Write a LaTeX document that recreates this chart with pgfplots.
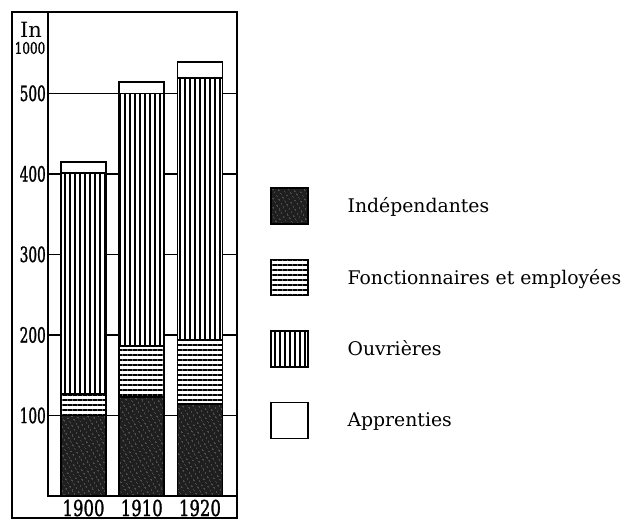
\documentclass[border=0pt]{standalone}
\usepackage{pgfplots}
\pgfplotsset{compat=1.18}
\usetikzlibrary{patterns.meta}
\usepackage{fontspec}
\setmainfont{DejaVu Serif}
\newfontfamily\numfont[FakeStretch=0.65,FakeBold=1.2]{DejaVu Serif}
\newfontfamily\yrfont[FakeStretch=0.75,FakeBold=1.2]{DejaVu Serif}

\pgfplotstableread{
x indep fonct ouvr appr
0 100 27 274 14
1 123 63 314 14
2 114 80 325 20
}\data

\begin{document}
\begin{tikzpicture}
\useasboundingbox (0,0) rectangle (624pt,520pt);
\fill[white] (0,0) rectangle (624pt,520pt);
\draw[line width=1.6pt] (12pt,2pt) rectangle (237pt,508pt);
\node[font=\fontsize{21}{21}\selectfont] at (31pt,490pt) {In};
\node[font=\yrfont\fontsize{16}{16}\selectfont] at (30pt,472pt) {1000};
\begin{axis}[
  at={(48pt,24pt)}, anchor=south west,
  scale only axis, width=189pt, height=484pt,
  xmin=-0.61, xmax=2.636, ymin=0, ymax=601,
  ybar stacked, bar width=45pt,
  axis line style={line width=1.6pt},
  xtick={0,1,2}, xticklabels={1900,1910,1920},
  ytick={100,200,300,400,500},
  major tick length=0pt,
  ymajorgrids, grid style={black, line width=1.4pt},
  /pgf/number format/assume math mode=true,
  yticklabel style={font=\numfont\fontsize{21}{21}\selectfont, inner xsep=2pt},
  xticklabel style={font=\yrfont\fontsize{22}{22}\selectfont, anchor=center, yshift=-12pt},
  legend image code/.code={\draw[#1,line width=1.6pt] (0pt,-18pt) rectangle (37pt,18pt);},
  legend cell align=left,
  legend style={at={(1.1746,0.6384)}, anchor=north west, draw=none, fill=none,
    inner sep=0pt, outer sep=0pt, row sep=34pt, column sep=0pt,
    font=\fontsize{18.8}{21}\selectfont,
    nodes={inner xsep=0pt}},
  /tikz/every odd column/.append style={column sep=39pt},
]
\addplot[draw=black, line width=1.6pt, fill=black!88,
  postaction={pattern={Dots[distance=4pt,radius=0.6pt,angle=30]}, pattern color=black!50}]
  table[x=x,y=indep]{\data};
\addplot[draw=black, line width=1.6pt, fill=white,
  postaction={pattern={Lines[angle=0,distance=5pt,line width=2pt]}, pattern color=black}]
  table[x=x,y=fonct]{\data};
\addplot[draw=black, line width=1.6pt, fill=white,
  postaction={pattern={Lines[angle=90,distance=5pt,line width=2pt]}, pattern color=black}]
  table[x=x,y=ouvr]{\data};
\addplot[draw=black, line width=1.6pt, fill=white]
  table[x=x,y=appr]{\data};
\legend{Indépendantes, Fonctionnaires et employées, Ouvrières, Apprenties}
\end{axis}
\end{tikzpicture}
\end{document}
